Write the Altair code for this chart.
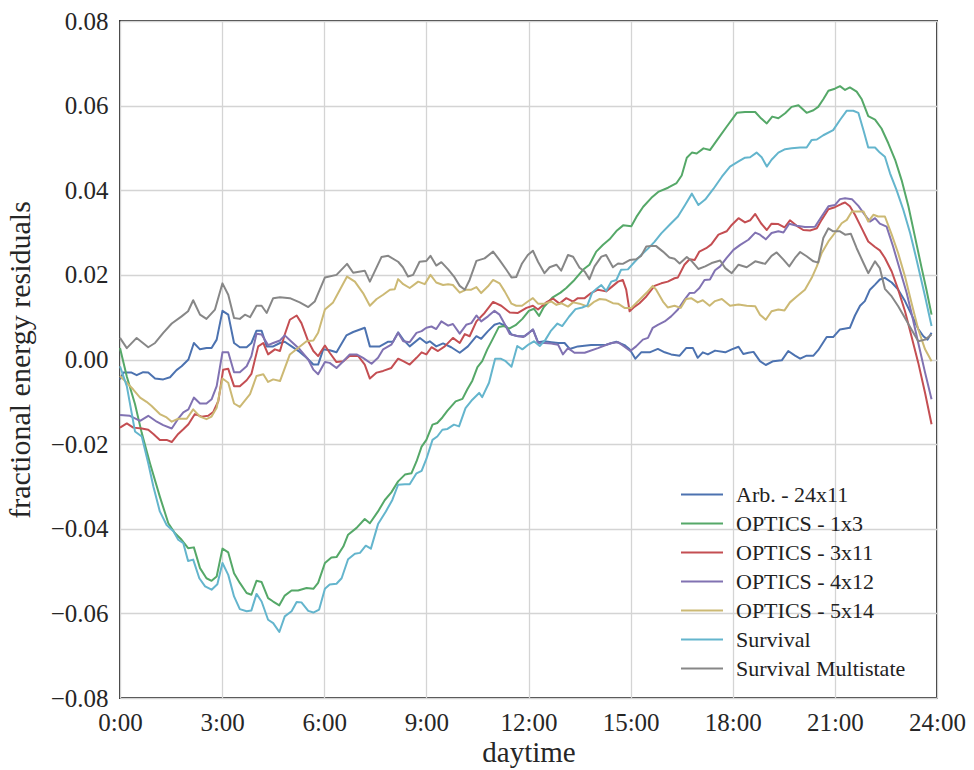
import altair as alt
import pandas as pd

# ---- data (hour of day, fractional energy residual) ----
series_names = ["Arb. - 24x11", "OPTICS - 1x3", "OPTICS - 3x11", "OPTICS - 4x12",
                "OPTICS - 5x14", "Survival", "Survival Multistate"]
series_colors = ["#4C72B0", "#55A868", "#C44E52", "#8172B2", "#CCB974", "#64B5CD", "#878787"]

arb_h = [0.0, 0.1, 0.34, 0.49, 0.68, 0.83, 1.03, 1.27, 1.47, 1.66, 1.81, 2.01, 2.17, 2.35, 2.54, 2.69, 2.84,
         3.01, 3.18, 3.35, 3.52, 3.72, 3.86, 4.01, 4.16, 4.31, 4.5, 4.7, 4.84, 5.04, 5.28, 5.48, 5.68, 5.82,
         5.97, 6.16, 6.36, 6.65, 6.85, 7.19, 7.34, 7.63, 7.88, 8.02, 8.17, 8.32, 8.51, 8.81, 9.0, 9.1, 9.29,
         9.49, 9.73, 9.98, 10.22, 10.47, 10.61, 10.81, 11.0, 11.15, 11.35, 11.5, 11.69, 11.89, 12.13, 12.28,
         12.47, 12.67, 12.87, 13.06, 13.21, 13.45, 13.84, 14.28, 14.58, 14.82, 14.97, 15.14, 15.31, 15.56,
         15.8, 16.0, 16.19, 16.44, 16.63, 16.83, 16.97, 17.12, 17.27, 17.48, 17.78, 17.97, 18.17, 18.31,
         18.46, 18.61, 18.8, 18.97, 19.19, 19.44, 19.63, 19.83, 19.98, 20.17, 20.37, 20.51, 20.76, 20.95,
         21.15, 21.44, 21.59, 21.74, 21.88, 22.03, 22.18, 22.32, 22.47, 22.67, 22.86, 23.06, 23.25, 23.45,
         23.6, 23.72, 23.84]
arb_v = [-0.0047, -0.0031, -0.0031, -0.0037, -0.003, -0.0031, -0.0045, -0.0047, -0.0042, -0.0025, -0.0016,
         0.0, 0.0039, 0.0024, 0.0027, 0.0027, 0.0047, 0.0115, 0.0106, 0.0039, 0.0029, 0.0029, 0.0039, 0.0068,
         0.0068, 0.0031, 0.0031, 0.0039, 0.0042, 0.0031, 0.0018, 0.0004, -0.0012, -0.0012, 0.0024, 0.0022,
         0.0017, 0.0057, 0.0065, 0.0075, 0.0031, 0.0031, 0.0042, 0.0042, 0.0064, 0.0047, 0.0031, 0.0051,
         0.0039, 0.0043, 0.0031, 0.0038, 0.0029, 0.0016, 0.0031, 0.0055, 0.0049, 0.0067, 0.0082, 0.0086,
         0.0078, 0.0059, 0.0055, 0.0055, 0.0071, 0.0041, 0.0043, 0.0041, 0.0039, 0.0039, 0.0025, 0.0031,
         0.0034, 0.0035, 0.0042, 0.0034, 0.0024, 0.0002, 0.0017, 0.0017, 0.0025, 0.0017, 0.0012, 0.0009,
         0.0027, 0.0027, 0.0004, 0.0017, 0.0012, 0.0021, 0.0017, 0.0024, 0.003, 0.0013, 0.0016, 0.0018,
         -0.0004, -0.0013, -0.0004, -0.0002, 0.002, 0.0009, 0.0002, 0.0009, 0.0009, 0.0022, 0.0053, 0.0053,
         0.0071, 0.0075, 0.0104, 0.0127, 0.0138, 0.0165, 0.0177, 0.0189, 0.0193, 0.0182, 0.0165, 0.0138,
         0.0106, 0.0072, 0.0055, 0.0047, 0.0063]

o13_h = [0.0, 0.2, 0.44, 0.64, 0.88, 1.17, 1.42, 1.61, 1.81, 2.0, 2.17, 2.35, 2.54, 2.69, 2.84, 3.01, 3.18,
         3.35, 3.52, 3.72, 3.86, 4.01, 4.16, 4.35, 4.5, 4.68, 4.84, 5.04, 5.23, 5.48, 5.68, 5.82, 6.02, 6.21,
         6.36, 6.56, 6.7, 6.95, 7.19, 7.34, 7.58, 7.78, 7.97, 8.17, 8.37, 8.56, 8.71, 8.86, 9.0, 9.18, 9.32,
         9.47, 9.62, 9.86, 10.06, 10.2, 10.35, 10.5, 10.64, 10.79, 10.94, 11.13, 11.28, 11.43, 11.62, 11.82,
         12.01, 12.16, 12.31, 12.45, 12.7, 12.94, 13.11, 13.35, 13.6, 13.79, 13.99, 14.19, 14.38, 14.6,
         14.78, 15.02, 15.17, 15.37, 15.61, 15.81, 16.1, 16.35, 16.5, 16.65, 16.8, 16.94, 17.14, 17.33,
         17.58, 17.82, 18.12, 18.36, 18.66, 18.83, 19.0, 19.16, 19.34, 19.54, 19.73, 19.93, 20.17, 20.37,
         20.51, 20.66, 20.81, 21.0, 21.15, 21.3, 21.44, 21.64, 21.79, 21.98, 22.18, 22.37, 22.57, 22.77,
         22.96, 23.16, 23.35, 23.55, 23.69, 23.84]
o13_v = [0.0027, -0.004, -0.0105, -0.0174, -0.0245, -0.0324, -0.0387, -0.041, -0.0426, -0.0446, -0.0444,
         -0.0493, -0.0517, -0.0523, -0.0513, -0.0447, -0.0456, -0.0505, -0.0528, -0.0552, -0.0556, -0.0523,
         -0.0526, -0.0564, -0.0572, -0.0581, -0.0558, -0.0546, -0.0546, -0.054, -0.0542, -0.0528, -0.0481,
         -0.0468, -0.0467, -0.0442, -0.0414, -0.0398, -0.0377, -0.0387, -0.0359, -0.0332, -0.0314, -0.0288,
         -0.0272, -0.0269, -0.0241, -0.0206, -0.019, -0.0154, -0.015, -0.0137, -0.0121, -0.0099, -0.0093,
         -0.0071, -0.005, -0.0018, -0.0004, 0.0024, 0.0047, 0.0077, 0.0079, 0.0073, 0.0081, 0.0096, 0.0115,
         0.012, 0.0103, 0.0124, 0.0146, 0.0158, 0.0169, 0.0188, 0.0212, 0.0224, 0.0255, 0.0271, 0.0284,
         0.0305, 0.0317, 0.0315, 0.0337, 0.0361, 0.0382, 0.0396, 0.0406, 0.0417, 0.0435, 0.0477, 0.0489,
         0.0487, 0.0499, 0.0495, 0.0523, 0.055, 0.0583, 0.0585, 0.0585, 0.057, 0.0558, 0.0574, 0.057, 0.0582,
         0.0597, 0.0601, 0.0583, 0.0589, 0.0597, 0.0615, 0.0635, 0.064, 0.0646, 0.0637, 0.0643, 0.0633,
         0.0615, 0.0575, 0.0567, 0.0546, 0.0511, 0.0472, 0.0424, 0.0362, 0.0291, 0.0216, 0.0165, 0.0106]

o311_h = [0.0, 0.2, 0.39, 0.64, 0.83, 0.98, 1.17, 1.37, 1.52, 1.71, 1.86, 2.01, 2.2, 2.4, 2.59, 2.74, 2.89,
          3.03, 3.18, 3.35, 3.52, 3.72, 3.86, 4.06, 4.21, 4.35, 4.55, 4.7, 4.84, 4.99, 5.19, 5.33, 5.53, 5.68,
          5.82, 6.02, 6.16, 6.36, 6.56, 6.75, 7.0, 7.19, 7.34, 7.54, 7.73, 7.97, 8.17, 8.32, 8.51, 8.71, 8.86,
          9.0, 9.15, 9.34, 9.54, 9.78, 9.98, 10.13, 10.27, 10.47, 10.71, 10.96, 11.2, 11.45, 11.69, 11.94,
          12.13, 12.28, 12.52, 12.72, 12.91, 13.11, 13.31, 13.45, 13.65, 13.84, 14.04, 14.28, 14.48, 14.63,
          14.77, 14.87, 14.97, 15.12, 15.26, 15.46, 15.7, 15.9, 16.09, 16.29, 16.39, 16.58, 16.73, 16.88,
          17.02, 17.22, 17.37, 17.58, 17.82, 17.97, 18.17, 18.36, 18.51, 18.66, 18.83, 19.0, 19.14, 19.34,
          19.52, 19.68, 19.88, 20.07, 20.27, 20.47, 20.61, 20.81, 21.0, 21.2, 21.3, 21.44, 21.59, 21.79,
          21.98, 22.18, 22.32, 22.47, 22.67, 22.86, 23.06, 23.25, 23.45, 23.65, 23.84]
o311_v = [-0.0161, -0.0151, -0.0161, -0.0163, -0.0166, -0.0176, -0.019, -0.019, -0.0195, -0.0176, -0.0165,
          -0.0153, -0.0129, -0.0135, -0.0133, -0.0124, -0.0098, -0.0024, -0.0022, -0.0063, -0.0063, -0.0049,
          -0.0034, 0.0031, 0.0039, 0.0012, 0.0024, 0.002, 0.0059, 0.0094, 0.0104, 0.0086, 0.0043, 0.002,
          0.0008, 0.0033, 0.0016, -0.0006, -0.0004, 0.0009, 0.0008, -0.0012, -0.0045, -0.0031, -0.0027,
          -0.002, 0.0002, -0.0004, -0.0012, 0.0004, 0.0017, 0.0012, 0.0029, 0.002, 0.0031, 0.0051, 0.0039,
          0.006, 0.0055, 0.009, 0.011, 0.0136, 0.0127, 0.0111, 0.011, 0.0122, 0.0127, 0.0118, 0.0135, 0.0144,
          0.0132, 0.0145, 0.0137, 0.0145, 0.0145, 0.0157, 0.0165, 0.0161, 0.0174, 0.0184, 0.0188, 0.0165,
          0.0114, 0.0125, 0.0133, 0.0149, 0.0174, 0.018, 0.0184, 0.0192, 0.0194, 0.0224, 0.0237, 0.0235,
          0.0255, 0.0263, 0.0272, 0.0295, 0.0303, 0.0318, 0.0334, 0.0324, 0.0329, 0.0344, 0.0322, 0.0306,
          0.0321, 0.032, 0.0312, 0.0329, 0.0316, 0.0306, 0.0305, 0.031, 0.033, 0.0355, 0.036, 0.0368, 0.0371,
          0.0362, 0.0342, 0.031, 0.0279, 0.0266, 0.0258, 0.024, 0.0208, 0.0165, 0.0114, 0.0055, -0.0008,
          -0.0079, -0.0153]

o412_h = [0.0, 0.29, 0.59, 0.83, 1.08, 1.27, 1.52, 1.71, 1.86, 2.01, 2.17, 2.35, 2.54, 2.69, 2.84, 3.01,
          3.18, 3.35, 3.52, 3.72, 3.86, 4.01, 4.16, 4.35, 4.5, 4.7, 4.84, 5.04, 5.28, 5.53, 5.68, 5.82, 6.02,
          6.16, 6.36, 6.56, 6.75, 6.95, 7.14, 7.39, 7.58, 7.73, 7.97, 8.17, 8.32, 8.51, 8.71, 8.86, 9.0, 9.15,
          9.29, 9.44, 9.64, 9.78, 9.98, 10.17, 10.32, 10.47, 10.61, 10.81, 11.0, 11.15, 11.3, 11.45, 11.64,
          11.84, 11.98, 12.13, 12.28, 12.47, 12.67, 12.87, 13.01, 13.16, 13.35, 13.65, 14.04, 14.43, 14.63,
          14.82, 14.99, 15.16, 15.36, 15.51, 15.65, 15.8, 16.0, 16.19, 16.39, 16.58, 16.73, 16.88, 17.02,
          17.17, 17.33, 17.48, 17.63, 17.82, 18.02, 18.22, 18.46, 18.66, 18.8, 18.97, 19.14, 19.34, 19.49,
          19.66, 19.88, 20.12, 20.42, 20.61, 20.81, 21.0, 21.15, 21.3, 21.5, 21.69, 21.88, 22.03, 22.18,
          22.32, 22.52, 22.71, 22.91, 23.11, 23.25, 23.45, 23.65, 23.84]
o412_v = [-0.0131, -0.0133, -0.0145, -0.0133, -0.0147, -0.0155, -0.0163, -0.014, -0.0125, -0.0118, -0.009,
          -0.0104, -0.0104, -0.0094, -0.0063, 0.0017, 0.0017, -0.003, -0.003, -0.0016, 0.0008, 0.0061, 0.0059,
          0.0034, 0.0039, 0.0045, 0.0057, 0.0042, 0.0024, 0.0, -0.0024, -0.0035, -0.0006, -0.0008, -0.002,
          -0.0004, 0.0012, 0.0012, 0.0004, -0.001, 0.0004, 0.0024, 0.0035, 0.0063, 0.0043, 0.0041, 0.0063,
          0.0067, 0.0075, 0.0078, 0.0072, 0.009, 0.008, 0.0084, 0.0061, 0.0082, 0.0086, 0.0104, 0.009, 0.0102,
          0.0115, 0.0106, 0.0084, 0.006, 0.0056, 0.0053, 0.0061, 0.0071, 0.0039, 0.0039, 0.0038, 0.0035,
          0.0012, 0.0027, 0.0016, 0.0016, 0.0027, 0.0039, 0.0041, 0.003, 0.002, 0.0031, 0.0047, 0.0051,
          0.0075, 0.0082, 0.009, 0.0102, 0.0118, 0.0141, 0.0157, 0.0158, 0.0169, 0.0188, 0.0189, 0.0211,
          0.022, 0.024, 0.0259, 0.0271, 0.0283, 0.03, 0.0295, 0.0284, 0.0299, 0.0303, 0.03, 0.0321, 0.0316,
          0.0313, 0.0314, 0.0338, 0.0362, 0.0365, 0.0379, 0.0381, 0.0379, 0.0363, 0.0342, 0.0326, 0.0334,
          0.0321, 0.0314, 0.0267, 0.0212, 0.0157, 0.011, 0.0039, -0.0031, -0.0094]

o514_h = [0.0, 0.2, 0.39, 0.59, 0.78, 0.93, 1.17, 1.37, 1.52, 1.71, 1.96, 2.15, 2.35, 2.54, 2.69, 2.84,
          3.01, 3.18, 3.35, 3.52, 3.82, 4.01, 4.21, 4.35, 4.5, 4.7, 4.99, 5.23, 5.48, 5.68, 5.82, 6.02, 6.26,
          6.46, 6.67, 6.9, 7.14, 7.34, 7.54, 7.73, 7.93, 8.07, 8.17, 8.32, 8.51, 8.76, 8.95, 9.12, 9.29, 9.49,
          9.64, 9.78, 9.98, 10.17, 10.32, 10.47, 10.61, 10.81, 10.96, 11.15, 11.3, 11.5, 11.64, 11.81, 11.98,
          12.13, 12.28, 12.47, 12.67, 12.82, 12.96, 13.16, 13.31, 13.5, 13.75, 13.94, 14.09, 14.28, 14.48,
          14.63, 14.82, 15.02, 15.21, 15.46, 15.65, 15.75, 15.95, 16.09, 16.29, 16.47, 16.63, 16.78, 16.97,
          17.12, 17.32, 17.48, 17.68, 17.92, 18.17, 18.41, 18.66, 18.8, 18.97, 19.14, 19.34, 19.52, 19.68,
          19.88, 20.12, 20.32, 20.47, 20.61, 20.81, 21.0, 21.2, 21.35, 21.5, 21.64, 21.84, 21.98, 22.13,
          22.27, 22.47, 22.67, 22.86, 23.06, 23.25, 23.45, 23.65, 23.84]
o514_v = [-0.0039, -0.0055, -0.0071, -0.009, -0.01, -0.011, -0.0129, -0.0137, -0.0147, -0.014, -0.014,
          -0.0118, -0.0135, -0.0141, -0.0135, -0.0114, -0.0045, -0.0055, -0.0104, -0.0112, -0.0082, -0.0039,
          -0.0035, -0.0053, -0.0047, -0.0051, 0.0012, 0.0027, 0.0043, 0.0045, 0.0063, 0.0118, 0.0135, 0.0165,
          0.0196, 0.0184, 0.0157, 0.0127, 0.0143, 0.0153, 0.0165, 0.0166, 0.019, 0.0178, 0.0169, 0.0184,
          0.0178, 0.02, 0.0182, 0.0176, 0.0178, 0.0176, 0.0158, 0.0165, 0.0165, 0.0171, 0.0157, 0.0173,
          0.0188, 0.018, 0.0161, 0.0132, 0.0127, 0.0127, 0.0137, 0.0145, 0.0132, 0.0132, 0.0137, 0.0129,
          0.0133, 0.0125, 0.0135, 0.0132, 0.0125, 0.0137, 0.0143, 0.0141, 0.0133, 0.0132, 0.0122, 0.0122,
          0.0137, 0.0157, 0.0174, 0.0165, 0.0137, 0.0123, 0.0127, 0.0122, 0.0143, 0.0145, 0.0135, 0.014,
          0.0127, 0.0138, 0.0143, 0.0127, 0.013, 0.0127, 0.0126, 0.0106, 0.0094, 0.0114, 0.0118, 0.0116,
          0.0135, 0.0149, 0.0165, 0.0193, 0.022, 0.0251, 0.0279, 0.0299, 0.0322, 0.033, 0.035, 0.035, 0.035,
          0.0326, 0.0342, 0.0338, 0.0338, 0.0295, 0.0251, 0.0196, 0.0134, 0.0071, 0.0024, -0.0004]

surv_h = [0.0, 0.2, 0.44, 0.64, 0.83, 0.98, 1.17, 1.37, 1.57, 1.71, 1.86, 2.0, 2.15, 2.33, 2.5, 2.69, 2.86,
          3.01, 3.18, 3.35, 3.52, 3.72, 3.86, 4.01, 4.16, 4.35, 4.5, 4.68, 4.84, 5.04, 5.19, 5.33, 5.53, 5.68,
          5.85, 6.02, 6.16, 6.36, 6.51, 6.7, 6.9, 7.05, 7.22, 7.37, 7.58, 7.81, 8.0, 8.17, 8.37, 8.51, 8.71,
          8.86, 9.0, 9.18, 9.32, 9.47, 9.62, 9.81, 9.96, 10.15, 10.35, 10.55, 10.64, 10.84, 11.02, 11.18,
          11.33, 11.5, 11.67, 11.82, 12.01, 12.16, 12.33, 12.5, 12.65, 12.85, 12.99, 13.19, 13.38, 13.58,
          13.73, 13.87, 14.0, 14.14, 14.28, 14.43, 14.58, 14.72, 14.92, 15.12, 15.31, 15.51, 15.7, 15.9,
          16.14, 16.39, 16.6, 16.8, 16.99, 17.19, 17.43, 17.68, 17.92, 18.17, 18.36, 18.51, 18.7, 18.85,
          19.0, 19.14, 19.34, 19.54, 19.73, 19.98, 20.17, 20.32, 20.47, 20.66, 20.95, 21.15, 21.35, 21.54,
          21.69, 21.84, 21.98, 22.18, 22.32, 22.47, 22.62, 22.81, 23.01, 23.21, 23.4, 23.65, 23.84]
surv_v = [-0.0016, -0.0063, -0.017, -0.0182, -0.0245, -0.03, -0.0359, -0.0391, -0.0406, -0.0426, -0.0434,
          -0.0476, -0.0473, -0.0517, -0.0536, -0.0544, -0.0531, -0.0481, -0.0509, -0.056, -0.059, -0.0595,
          -0.0593, -0.0554, -0.0572, -0.0615, -0.0623, -0.0644, -0.0607, -0.0595, -0.0573, -0.0574, -0.0594,
          -0.0598, -0.0591, -0.0542, -0.0532, -0.053, -0.0517, -0.0472, -0.0459, -0.0457, -0.044, -0.0447,
          -0.0389, -0.0359, -0.0332, -0.0296, -0.0295, -0.0295, -0.0269, -0.0263, -0.0235, -0.019, -0.0182,
          -0.0166, -0.0164, -0.0154, -0.0158, -0.0115, -0.0095, -0.0079, -0.0089, -0.0055, 0.0002, 0.0002,
          -0.0004, -0.0017, 0.0032, 0.0024, 0.0036, 0.0043, 0.0032, 0.0047, 0.0067, 0.0085, 0.0079, 0.0101,
          0.0119, 0.0123, 0.0128, 0.0158, 0.0167, 0.0176, 0.0162, 0.0184, 0.0188, 0.0212, 0.0213, 0.0231,
          0.0247, 0.0262, 0.0278, 0.0298, 0.0318, 0.0338, 0.0365, 0.0392, 0.0365, 0.0378, 0.0403, 0.0432,
          0.0456, 0.0468, 0.0477, 0.0478, 0.0489, 0.0478, 0.0456, 0.0472, 0.0489, 0.0497, 0.0499, 0.0501,
          0.0501, 0.0519, 0.052, 0.053, 0.0542, 0.0566, 0.0588, 0.0588, 0.0583, 0.0542, 0.0501, 0.0501,
          0.0489, 0.0479, 0.044, 0.0401, 0.0354, 0.0299, 0.0236, 0.0149, 0.0079]

multi_h = [0.0, 0.2, 0.49, 0.83, 1.03, 1.27, 1.52, 1.81, 2.0, 2.15, 2.35, 2.54, 2.79, 3.01, 3.18, 3.35, 3.52,
           3.67, 3.82, 4.01, 4.16, 4.31, 4.5, 4.7, 4.99, 5.28, 5.53, 5.72, 6.02, 6.36, 6.67, 6.85, 7.19, 7.34,
           7.68, 7.88, 8.17, 8.31, 8.46, 8.61, 8.8, 9.0, 9.12, 9.29, 9.44, 9.64, 9.83, 9.98, 10.13, 10.27,
           10.47, 10.71, 10.96, 11.15, 11.35, 11.5, 11.64, 11.81, 11.98, 12.13, 12.28, 12.47, 12.62, 12.82,
           12.96, 13.16, 13.31, 13.5, 13.65, 13.79, 13.94, 14.14, 14.28, 14.48, 14.63, 14.77, 14.97, 15.16,
           15.31, 15.46, 15.6, 15.75, 15.95, 16.14, 16.29, 16.44, 16.65, 16.8, 16.99, 17.19, 17.38, 17.63,
           17.78, 17.97, 18.17, 18.41, 18.66, 18.95, 19.14, 19.29, 19.49, 19.66, 19.83, 19.98, 20.17, 20.37,
           20.51, 20.66, 20.81, 20.95, 21.15, 21.3, 21.47, 21.64, 21.84, 21.98, 22.18, 22.32, 22.47, 22.67,
           22.86, 23.06, 23.25, 23.45, 23.65, 23.84]
multi_v = [0.0051, 0.0027, 0.0051, 0.0029, 0.0039, 0.0063, 0.0085, 0.0102, 0.0114, 0.014, 0.0106, 0.0096,
           0.0118, 0.018, 0.0153, 0.0098, 0.0096, 0.0106, 0.01, 0.0127, 0.0127, 0.011, 0.0145, 0.0147, 0.0145,
           0.0135, 0.0124, 0.0137, 0.0194, 0.02, 0.0226, 0.0205, 0.021, 0.0184, 0.0242, 0.0245, 0.0231, 0.0218,
           0.0196, 0.02, 0.0231, 0.0233, 0.0245, 0.0222, 0.023, 0.0213, 0.0194, 0.0174, 0.0165, 0.0188, 0.0233,
           0.0239, 0.0255, 0.0235, 0.0212, 0.0194, 0.0195, 0.0227, 0.0247, 0.0257, 0.0231, 0.0204, 0.0218,
           0.0224, 0.021, 0.0247, 0.0243, 0.0217, 0.0208, 0.019, 0.022, 0.0243, 0.0247, 0.0218, 0.0227, 0.0226,
           0.0235, 0.0237, 0.0245, 0.0267, 0.0268, 0.0268, 0.0255, 0.0241, 0.0238, 0.0227, 0.0242, 0.0232,
           0.0214, 0.022, 0.0228, 0.0234, 0.0216, 0.0204, 0.0224, 0.0218, 0.0232, 0.0226, 0.0245, 0.0253,
           0.0236, 0.022, 0.024, 0.0254, 0.0244, 0.0232, 0.0229, 0.0287, 0.031, 0.0303, 0.0303, 0.0295, 0.0297,
           0.0263, 0.0228, 0.0204, 0.0232, 0.0216, 0.0167, 0.0149, 0.0126, 0.0098, 0.0071, 0.0043, 0.0047,
           0.0059]

x_ticks = [0, 3, 6, 9, 12, 15, 18, 21, 24]
y_ticks = [-0.08, -0.06, -0.04, -0.02, 0.0, 0.02, 0.04, 0.06, 0.08]

all_h = [arb_h, o13_h, o311_h, o412_h, o514_h, surv_h, multi_h]
all_v = [arb_v, o13_v, o311_v, o412_v, o514_v, surv_v, multi_v]

rows = []
for name, hs, vs in zip(series_names, all_h, all_v):
    for h, v in zip(hs, vs):
        rows.append({"hour": h, "value": v, "series": name})
df = pd.DataFrame(rows)

FONT = "Liberation Serif"

chart = alt.Chart(df).mark_line(strokeWidth=2, strokeJoin="round").encode(
    x=alt.X("hour:Q",
            scale=alt.Scale(domain=[0, 24], nice=False, zero=False),
            axis=alt.Axis(values=x_ticks, labelExpr="datum.value + ':00'", title="daytime",
                          grid=True, ticks=False, domain=False, labelPadding=12, titlePadding=3,
                          labelFont=FONT, labelFontSize=25, titleFont=FONT,
                          titleFontSize=29, labelFlush=False)),
    y=alt.Y("value:Q",
            scale=alt.Scale(domain=[-0.08, 0.08], nice=False, zero=False),
            axis=alt.Axis(values=y_ticks, format=".2f", title="fractional energy residuals",
                          grid=True, ticks=False, domain=False, labelPadding=12, titlePadding=15,
                          labelFont=FONT, labelFontSize=25, titleFont=FONT,
                          titleFontSize=30, labelFlush=False)),
    color=alt.Color("series:N",
                    scale=alt.Scale(domain=series_names, range=series_colors),
                    legend=alt.Legend(title=None, orient="none", legendX=560, legendY=459,
                                      symbolType="stroke", symbolSize=1764, symbolStrokeWidth=2,
                                      clipHeight=29,
                                      labelFont=FONT, labelFontSize=22, labelColor="#222222",
                                      labelLimit=0, labelOffset=12, padding=0, rowPadding=0)),
    order=alt.Order("hour:Q"),
).properties(
    width=817, height=677,
    autosize="none",
    padding={"left": 120, "top": 21, "right": 37, "bottom": 72},
).configure_view(
    stroke="#333333", strokeWidth=2
).configure_axis(
    labelFont=FONT, labelFontSize=25, labelColor="#262626",
    titleFont=FONT, titleFontWeight="normal", titleColor="#262626",
    gridColor="#d4d4d4", gridWidth=1.3
)

chart.save("out.html", embed_options={"renderer": "svg", "actions": False})
